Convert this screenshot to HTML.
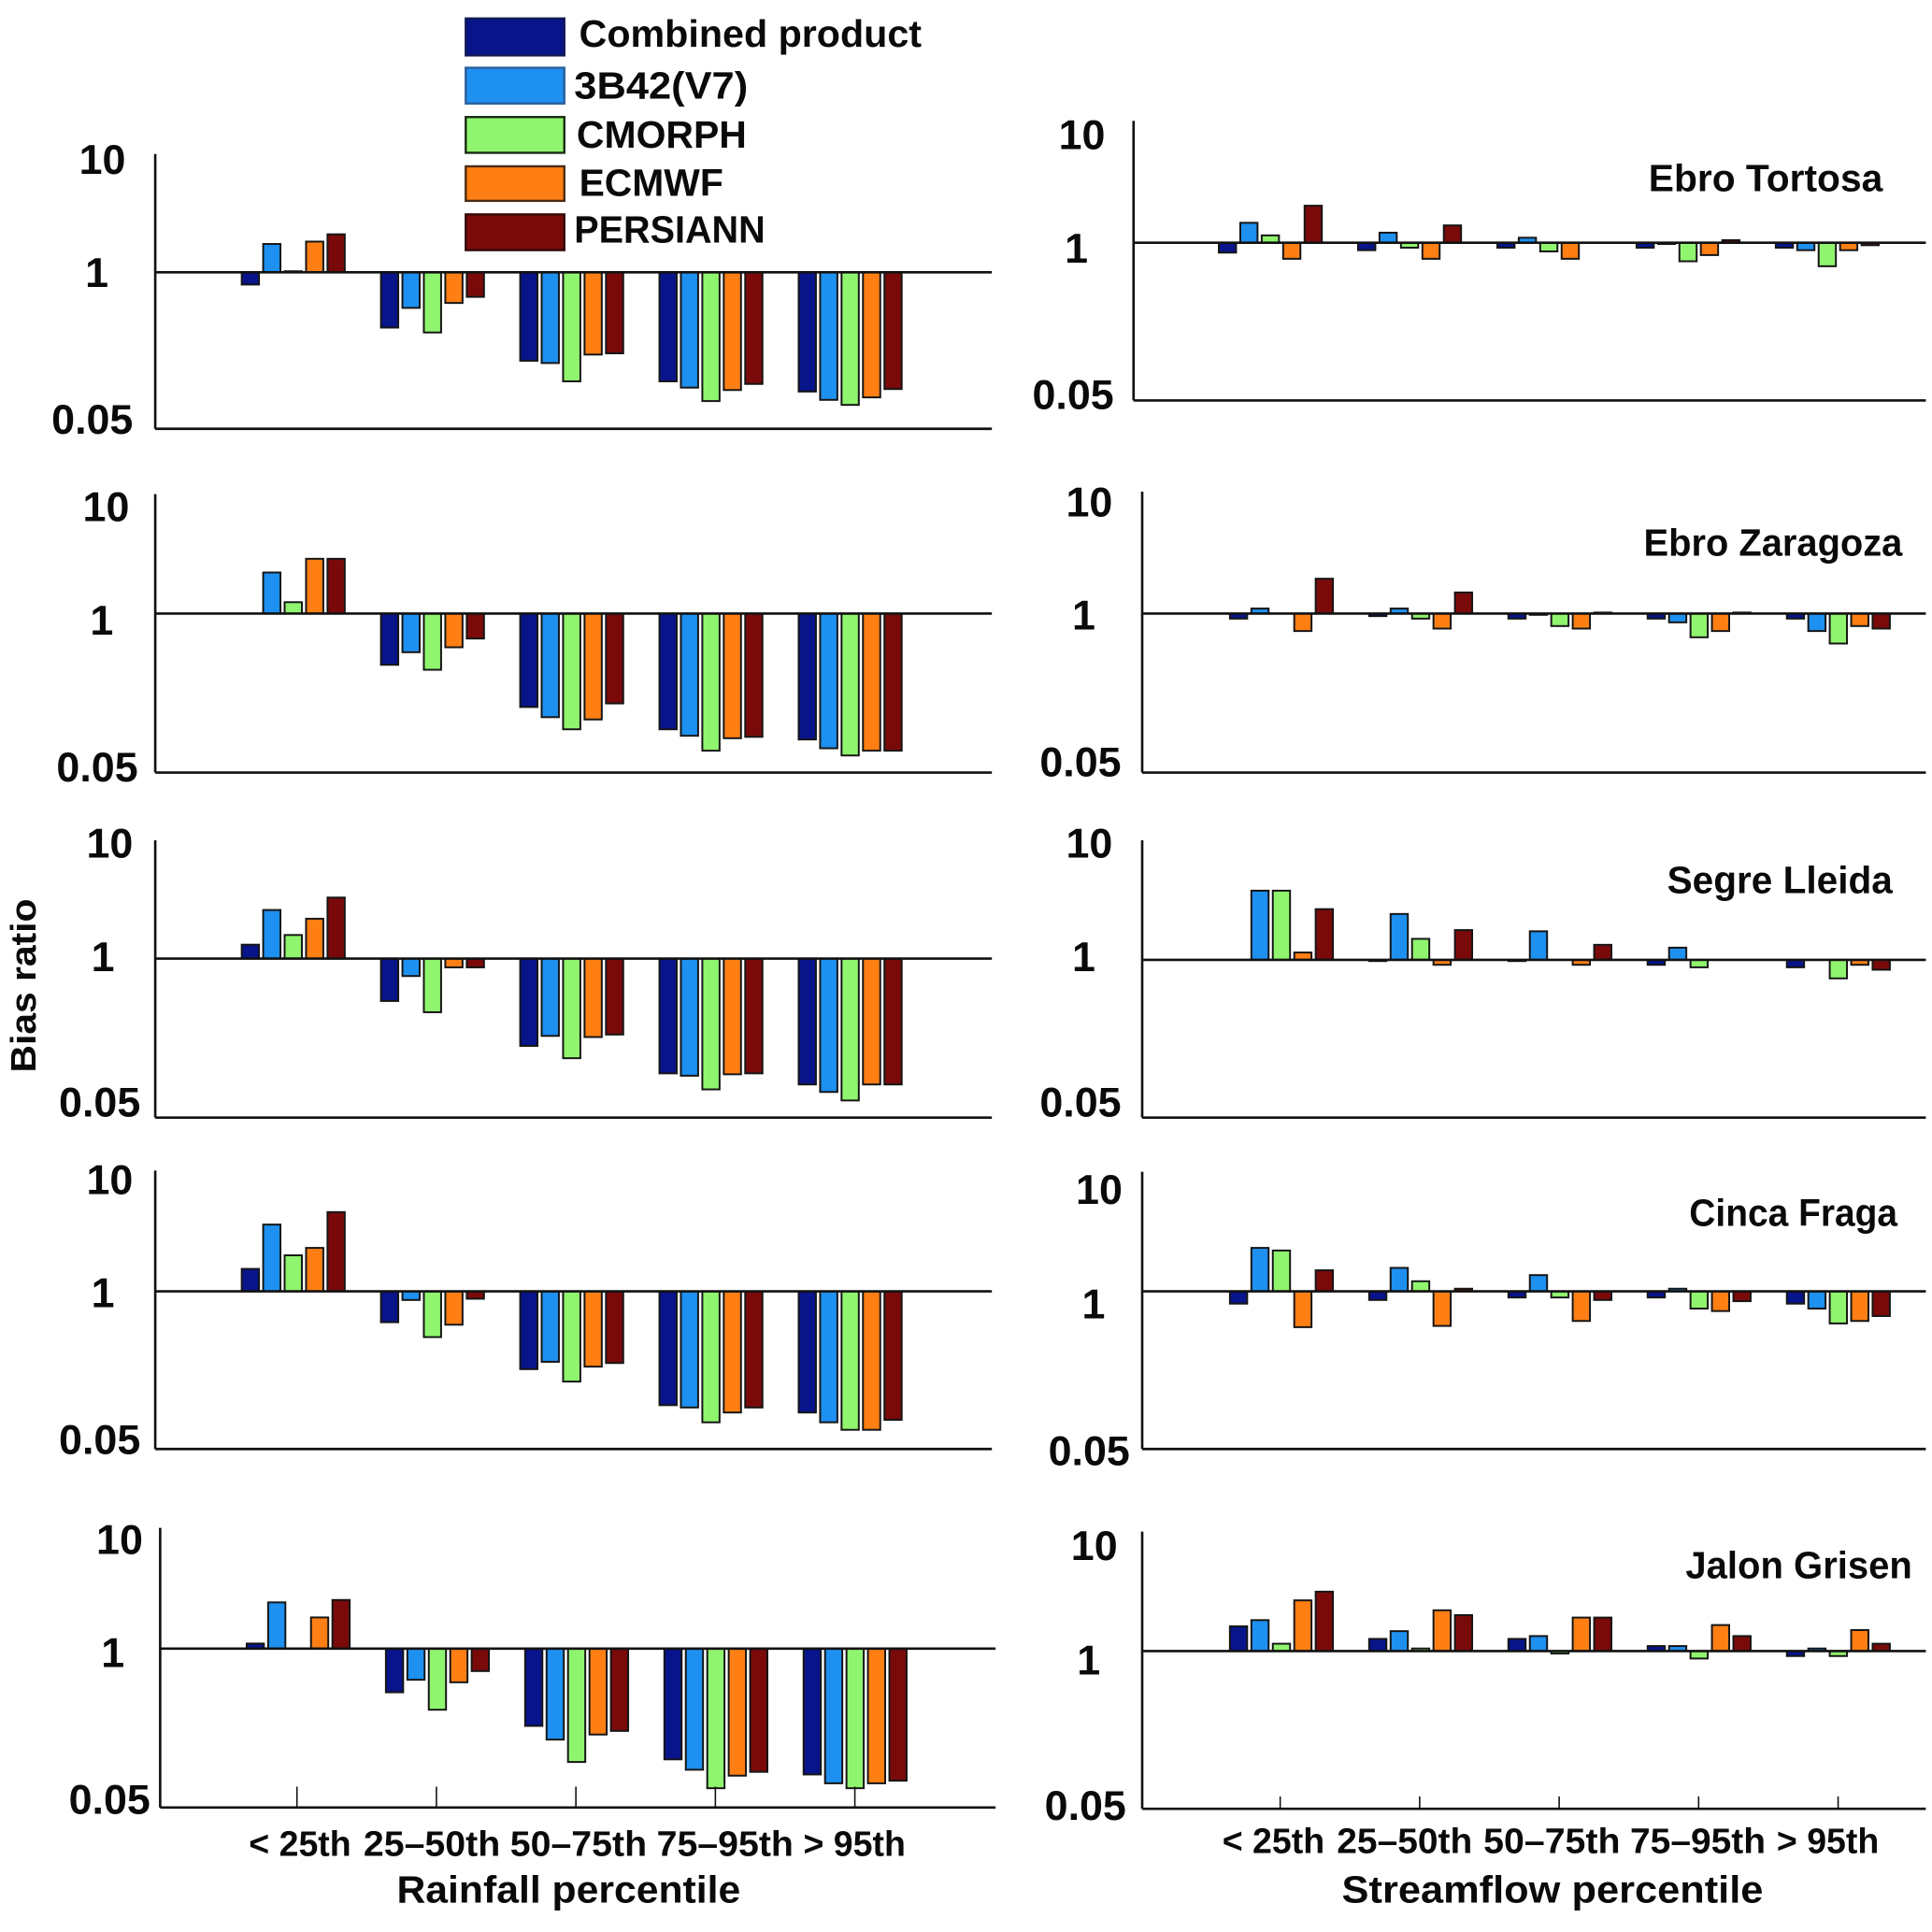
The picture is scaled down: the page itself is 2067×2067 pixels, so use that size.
<!DOCTYPE html>
<html lang="en">
<head>
<meta charset="utf-8">
<title>Bias ratio by rainfall and streamflow percentile</title>
<style>
html,body{margin:0;padding:0;background:#fff;}
svg{display:block;width:2067px;height:2067px;}
text{font-family:"Liberation Sans",sans-serif;font-weight:bold;fill:#0a0a0a;}
</style>
</head>
<body>
<svg id="chart" xmlns="http://www.w3.org/2000/svg" viewBox="0 0 1568 1568">
  <rect width="1568" height="1568" fill="#ffffff"/>
  <g>
    <rect x="378" y="15" width="80" height="30" fill="#08148a" stroke="#111a55" stroke-width="1.8"/>
    <text x="470" y="38" font-size="31" textLength="278" lengthAdjust="spacingAndGlyphs">Combined product</text>
    <rect x="378" y="55" width="80" height="29" fill="#1e90f0" stroke="#2a5f9a" stroke-width="1.8"/>
    <text x="466" y="80" font-size="31" textLength="141" lengthAdjust="spacingAndGlyphs">3B42(V7)</text>
    <rect x="378" y="95" width="80" height="29" fill="#90f56e" stroke="#1a2a12" stroke-width="1.8"/>
    <text x="468" y="120" font-size="31" textLength="138" lengthAdjust="spacingAndGlyphs">CMORPH</text>
    <rect x="378" y="135" width="80" height="28" fill="#ff7f14" stroke="#4a2a12" stroke-width="1.8"/>
    <text x="470" y="159" font-size="31" textLength="117" lengthAdjust="spacingAndGlyphs">ECMWF</text>
    <rect x="378" y="174" width="80" height="29" fill="#7a0a0a" stroke="#330808" stroke-width="1.8"/>
    <text x="466" y="197" font-size="31" textLength="155" lengthAdjust="spacingAndGlyphs">PERSIANN</text>
  </g>
  <text transform="translate(29,800) rotate(-90)" text-anchor="middle" font-size="29" textLength="141" lengthAdjust="spacingAndGlyphs">Bias ratio</text>
  <text x="322" y="1544" font-size="31" textLength="279" lengthAdjust="spacingAndGlyphs">Rainfall percentile</text>
  <text x="1089" y="1544" font-size="31" textLength="342" lengthAdjust="spacingAndGlyphs">Streamflow percentile</text>
  <g id="panels"></g>
</svg>
<script>
// Tick labels and categories
const yTickValues = [10, 1, 0.05];
const yTickLabels = ['10', '1', '0.05'];
const categories = ['< 25th', '25\u201350th', '50\u201375th', '75\u201395th', '> 95th'];
const seriesNames = ['Combined product', '3B42(V7)', 'CMORPH', 'ECMWF', 'PERSIANN'];

// Bias ratios: one row per percentile category, one column per product
const rainfallPanel1 = [
  [0.791, 1.72, 1.02, 1.80, 2.07],
  [0.347, 0.506, 0.316, 0.556, 0.625],
  [0.184, 0.176, 0.124, 0.207, 0.212],
  [0.124, 0.110, 0.085, 0.105, 0.118],
  [0.102, 0.087, 0.079, 0.0912, 0.107]
];
const rainfallPanel2 = [
  [1.0, 2.17, 1.24, 2.81, 2.81],
  [0.381, 0.483, 0.347, 0.530, 0.625],
  [0.172, 0.142, 0.113, 0.136, 0.184],
  [0.113, 0.100, 0.0755, 0.0955, 0.098],
  [0.0933, 0.079, 0.069, 0.0755, 0.0755]
];
const rainfallPanel3 = [
  [1.30, 2.50, 1.56, 2.12, 3.16],
  [0.450, 0.720, 0.364, 0.848, 0.848],
  [0.193, 0.233, 0.153, 0.228, 0.239],
  [0.115, 0.110, 0.085, 0.113, 0.115],
  [0.0933, 0.081, 0.069, 0.0933, 0.0933]
];
const rainfallPanel4 = [
  [1.53, 3.55, 1.98, 2.28, 4.50],
  [0.556, 0.848, 0.419, 0.530, 0.868],
  [0.228, 0.262, 0.180, 0.239, 0.256],
  [0.115, 0.110, 0.083, 0.100, 0.110],
  [0.100, 0.083, 0.072, 0.072, 0.087]
];
const rainfallPanel5 = [
  [1.10, 2.39, 1.0, 1.80, 2.50],
  [0.439, 0.556, 0.316, 0.530, 0.655],
  [0.233, 0.180, 0.118, 0.198, 0.212],
  [0.124, 0.102, 0.072, 0.0912, 0.098],
  [0.0933, 0.079, 0.072, 0.079, 0.083]
];
const ebroTortosa = [
  [0.829, 1.46, 1.15, 0.737, 2.02],
  [0.868, 1.21, 0.910, 0.737, 1.39],
  [0.910, 1.10, 0.848, 0.737, 1.0],
  [0.910, 0.977, 0.703, 0.791, 1.05],
  [0.910, 0.868, 0.640, 0.868, 0.954]
];
const ebroZaragoza = [
  [0.910, 1.10, 1.0, 0.720, 1.93],
  [0.954, 1.10, 0.910, 0.754, 1.49],
  [0.910, 0.977, 0.791, 0.754, 1.02],
  [0.910, 0.848, 0.640, 0.720, 1.02],
  [0.910, 0.720, 0.569, 0.791, 0.754]
];
const segreLleida = [
  [1.0, 3.72, 3.72, 1.15, 2.62],
  [0.977, 2.39, 1.49, 0.910, 1.76],
  [0.977, 1.72, 1.0, 0.910, 1.33],
  [0.910, 1.26, 0.868, 1.0, 1.0],
  [0.868, 1.0, 0.703, 0.910, 0.829]
];
const cincaFraga = [
  [0.791, 2.28, 2.17, 0.506, 1.49],
  [0.848, 1.56, 1.21, 0.518, 1.05],
  [0.889, 1.36, 0.889, 0.569, 0.848],
  [0.889, 1.05, 0.720, 0.687, 0.829],
  [0.791, 0.720, 0.543, 0.569, 0.625]
];
const jalonGrisen = [
  [1.60, 1.80, 1.15, 2.62, 3.09],
  [1.26, 1.46, 1.05, 2.17, 1.98],
  [1.26, 1.33, 0.954, 1.89, 1.89],
  [1.10, 1.10, 0.868, 1.64, 1.33],
  [0.910, 1.05, 0.910, 1.49, 1.15]
];

// Styling and per-panel layout (the source panels are hand-placed, so each has its own frame)
const seriesFill = ['#08148a', '#1e90f0', '#90f56e', '#ff7f14', '#7a0a0a'];
const layouts = [
  {id:'rainfall-1', data:rainfallPanel1, ax:126, top:125, base:221, bot:348, right:805, c0:238, lx:[102,88,108], ly:[129,221,340]},
  {id:'rainfall-2', data:rainfallPanel2, ax:126, top:401, base:498, bot:627, right:805, c0:238, lx:[105,92,112], ly:[411,503,622]},
  {id:'rainfall-3', data:rainfallPanel3, ax:126, top:682, base:778, bot:907, right:805, c0:238, lx:[108,93,114], ly:[684,776,894]},
  {id:'rainfall-4', data:rainfallPanel4, ax:126, top:950, base:1048, bot:1176, right:805, c0:238, lx:[108,93,114], ly:[957,1049,1168]},
  {id:'rainfall-5', data:rainfallPanel5, ax:130, top:1240, base:1338, bot:1467, right:808, c0:242, lx:[116,101,122], ly:[1249,1341,1460], ticks:17, tickC0:241, catY:1506, catX:[202,295,414,533,652], catW:[83,111,111,111,83]},
  {id:'ebro-tortosa', title:'Ebro Tortosa', tx:1338, tw:190, ty:144, data:ebroTortosa, ax:920, top:98, base:197, bot:325, right:1563, c0:1031, lx:[897,883,904], ly:[109,201,320]},
  {id:'ebro-zaragoza', title:'Ebro Zaragoza', tx:1334, tw:210, ty:440, data:ebroZaragoza, ax:927, top:399, base:498, bot:627, right:1563, c0:1040, lx:[903,889,910], ly:[407,499,618]},
  {id:'segre-lleida', title:'Segre Lleida', tx:1353, tw:183, ty:714, data:segreLleida, ax:927, top:682, base:779, bot:907, right:1563, c0:1040, lx:[903,889,910], ly:[684,776,894]},
  {id:'cinca-fraga', title:'Cinca Fraga', tx:1371, tw:169, ty:984, data:cincaFraga, ax:927, top:951, base:1048, bot:1176, right:1563, c0:1040, lx:[911,897,917], ly:[965,1058,1177]},
  {id:'jalon-grisen', title:'Jalon Grisen', tx:1368, tw:184, ty:1270, data:jalonGrisen, ax:927, top:1243, base:1340, bot:1468, right:1563, c0:1040, lx:[907,893,914], ly:[1254,1347,1465], ticks:10, tickC0:1039, catY:1504, catX:[992,1085,1204,1323,1442], catW:[83,110,111,110,83]}
];

const NS = 'http://www.w3.org/2000/svg';
const GROUP_STEP = 113, BAR_STEP = 17.4, BAR_W = 14;
const root = document.getElementById('panels');

function make(tag, attrs, parent) {
  const el = document.createElementNS(NS, tag);
  for (const k in attrs) el.setAttribute(k, attrs[k]);
  parent.appendChild(el);
  return el;
}
// Log-scale y axis: bias ratio 1 sits on the base line, 0.05 on the panel bottom
function yScale(p, v) {
  const pxPerDecade = (p.bot - p.base) / -Math.log10(0.05);
  return p.base - Math.log10(v) * pxPerDecade;
}
function xScale(p, cat, ser) {
  return p.c0 + cat * GROUP_STEP + (ser - 2) * BAR_STEP;
}

layouts.forEach(function (p) {
  const g = make('g', {}, root);
  
  

  p.data.forEach(function (row, c) {
    row.forEach(function (v, s) {
      const y = yScale(p, v);
      const x = xScale(p, c, s);
      const bar = make('rect', {
        x: x - BAR_W / 2,
        y: Math.min(y, p.base),
        width: BAR_W,
        height: Math.abs(y - p.base),
        fill: seriesFill[s],
        stroke: '#151515',
        'stroke-width': 1.5
      }, g);
      
      
      const tip = make('title', {}, bar);
      tip.textContent = seriesNames[s] + ' ' + categories[c] + ': ' + v;
    });
  });

  const yAxis = make('line', {x1: p.ax, x2: p.ax, y1: p.top, y2: p.bot, stroke: '#111', 'stroke-width': 2}, g);
  
  
  const xAxis = make('line', {x1: p.ax, x2: p.right, y1: p.bot, y2: p.bot, stroke: '#111', 'stroke-width': 2}, g);
  
  
  const refLine = make('line', {x1: p.ax, x2: p.right, y1: p.base, y2: p.base, stroke: '#111', 'stroke-width': 2}, g);
  
  

  yTickValues.forEach(function (v, i) {
    const t = make('text', {x: p.lx[i], y: p.ly[i] + 12, 'text-anchor': 'end', 'font-size': 34}, g);
    t.textContent = yTickLabels[i];
    
    
  });

  if (p.title) {
    const t = make('text', {x: p.tx, y: p.ty + 11, 'font-size': 31, textLength: p.tw, lengthAdjust: 'spacingAndGlyphs'}, g);
    t.textContent = p.title;
    
    
  }

  if (p.ticks) {
    categories.forEach(function (label, c) {
      const tx = p.tickC0 + c * GROUP_STEP + c * 0.2;
      const tick = make('line', {x1: tx, x2: tx, y1: p.bot, y2: p.bot - p.ticks, stroke: '#111', 'stroke-width': 1.2}, g);
      
      
      const t = make('text', {x: p.catX[c], y: p.catY, 'font-size': 29, textLength: p.catW[c], lengthAdjust: 'spacingAndGlyphs'}, g);
      t.textContent = label;
      
      
    });
  }
});
</script>
</body>
</html>
